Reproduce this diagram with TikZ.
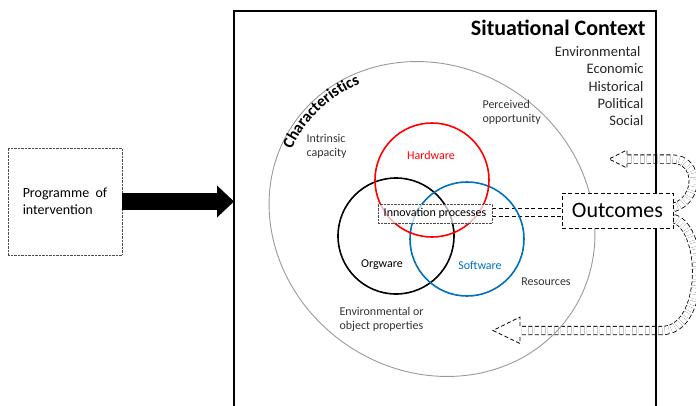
\documentclass[tikz,border=0pt]{standalone}
\usepackage{fontspec}
\setmainfont{Carlito}
\usetikzlibrary{arrows.meta, decorations.text, calc}

\definecolor{swblue}{RGB}{0,112,192}
\newcommand{\charfont}{\bfseries\fontsize{16}{18}\selectfont}

\pgfdeclarelayer{behind}
\pgfsetlayers{behind,main}

\tikzset{
  ctxline/.style={line width=2.7pt, line join=miter},
  progbox/.style={draw=black!70, densely dotted, minimum width=114pt, minimum height=107pt,
    align=left, font=\fontsize{14}{17}\selectfont},
  venn/.style={line width=1.6pt},
  lbl/.style={font=\fontsize{12}{14}\selectfont, align=left, text=black!80},
  innovbox/.style={draw=black!70, densely dotted, fill=white, fill opacity=0.7, text opacity=1,
    font=\fontsize{12}{14}\selectfont, minimum width=114pt, minimum height=19pt, inner sep=0pt},
  outbox/.style={draw, line width=0.8pt, dash pattern=on 4pt off 2.5pt, fill=white,
    font=\fontsize{22}{24}\selectfont, minimum width=111pt, minimum height=35pt, inner sep=0pt},
  hollow/.style={draw, line width=0.8pt, dash pattern=on 4pt off 2.5pt, double, double distance=7.5pt},
  hollowtip/.style={line width=0.8pt, dash pattern=on 4pt off 2.5pt, line join=miter},
}

\begin{document}
\begin{tikzpicture}[x=1pt, y=-1pt]
\useasboundingbox (0,0) rectangle (696,405);

%the programme
\node[progbox] (prog) at (65,201.5) {Programme\ \ of\\intervention};
\coordinate (ctxw) at (234,201.5);
\draw[line width=17pt, -{Triangle[width=31pt, length=17pt]}] (prog.east) -- (ctxw);

%the characteristics circle
\begin{scope}[rotate around={-35:(432,219)}]
\draw[black!40, line width=0.9pt] (432,219) ellipse [x radius=168, y radius=152];
\path[decorate, decoration={text along path, text align=center,
  text={|\charfont|Characteristics}}]
  ($(432,219)+(166:157 and 141)$) arc[start angle=166, end angle=214, x radius=157, y radius=141];
\end{scope}

\node[lbl, anchor=west] (intr) at (303,146) {Intrinsic\\capacity};
\node[lbl, anchor=west] (perc) at (479,112) {Perceived\\opportunity};
\node[lbl] (res) at (546,282) {Resources};
\node[lbl, anchor=west] (envp) at (336,319) {Environmental or\\object properties};

%the three ware circles
\draw[venn, black] (396,236) circle [radius=58];
\draw[venn, swblue] (467,239) circle [radius=57];
\draw[venn, red] (432,180) circle [radius=57];
\node[lbl, text=red] (hw) at (431,155) {Hardware};
\node[lbl, text=black] (ow) at (382,265) {Orgware};
\node[lbl, text=swblue] (sw) at (480,265) {Software};

\node[innovbox] (innov) at (435,213.5) {Innovation processes};
\node[outbox] (outc) at (617.5,210.5) {Outcomes};

%the feedback arrows
\coordinate (fbup) at (627,159);
\coordinate (fblow) at (520,330.5);
\begin{pgfonlayer}{behind}
\draw[hollow] (innov.east |- 0,212.5) -- (outc.west |- 0,212.5);
\draw[hollow] ($(outc.east)+(0,-3)$) .. controls (700,200) and (700,159) .. (672,159) -- (fbup);
\draw[hollowtip] ($(fbup)+(0,-4.5)$) -- ++(0,-4.5) -- (609,159) -- (627,168) -- ++(0,-4.5);
\draw[hollow] ($(outc.east)+(0,8)$) .. controls (706,228) and (706,330.5) .. (662,330.5) -- (fblow);
\draw[hollowtip] ($(fblow)+(0,-4.5)$) -- ++(0,-9) -- (493,330.5) -- (520,343.5) -- ++(0,-8.5);
\end{pgfonlayer}

%the context box
\draw[ctxline] (234,407) -- (234,11) -- (656,11) -- (656,407);
\node[outbox] at (outc) {Outcomes};
\node[anchor=east, font=\bfseries\fontsize{22}{24}\selectfont] (ctx) at (649,28) {Situational Context};
\node[anchor=east, align=right, font=\fontsize{14.5}{17.3}\selectfont, text=black!85] (factors) at (647,86.3)
  {Environmental\hspace*{3pt}\\Economic\\Historical\\Political\\Social};
\end{tikzpicture}
\end{document}
